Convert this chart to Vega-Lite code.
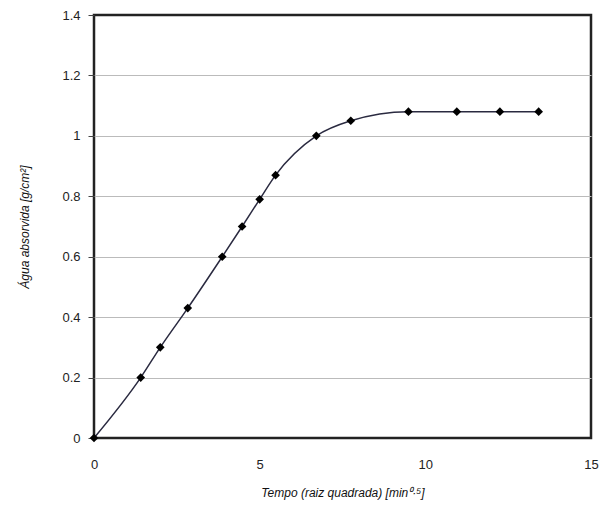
{
  "$schema": "https://vega.github.io/schema/vega-lite/v6.json",
  "width": 497,
  "height": 423,
  "autosize": {"type": "none"},
  "padding": {"left": 94, "top": 15, "right": 11, "bottom": 72},
  "background": "white",
  "config": {
    "font": "Liberation Sans",
    "view": {"stroke": "#222222", "strokeWidth": 2.5},
    "axis": {
      "labelFont": "Liberation Sans",
      "titleFont": "Liberation Sans",
      "labelFontSize": 13,
      "labelColor": "#222222",
      "titleFontSize": 12,
      "titleFontStyle": "italic",
      "titleFontWeight": "normal",
      "titleColor": "#111111",
      "domain": false,
      "gridWidth": 1
    }
  },
  "data": {
    "values": [
      {"t": 0, "a": 0},
      {"t": 1.41, "a": 0.2},
      {"t": 2.0, "a": 0.3},
      {"t": 2.83, "a": 0.43},
      {"t": 3.87, "a": 0.6},
      {"t": 4.47, "a": 0.7},
      {"t": 5.0, "a": 0.79},
      {"t": 5.48, "a": 0.87},
      {"t": 6.71, "a": 1.0},
      {"t": 7.75, "a": 1.05},
      {"t": 9.49, "a": 1.08},
      {"t": 10.95, "a": 1.08},
      {"t": 12.25, "a": 1.08},
      {"t": 13.42, "a": 1.08}
    ]
  },
  "encoding": {
    "x": {
      "field": "t",
      "type": "quantitative",
      "scale": {"domain": [0, 15], "nice": false},
      "axis": {
        "values": [0, 5, 10, 15],
        "grid": false,
        "ticks": false,
        "labelFlush": false,
        "labelPadding": 20,
        "title": "Tempo (raiz quadrada)  [min⁰·⁵]",
        "titlePadding": 16
      }
    },
    "y": {
      "field": "a",
      "type": "quantitative",
      "scale": {"domain": [0, 1.4], "nice": false},
      "axis": {
        "values": [0, 0.2, 0.4, 0.6, 0.8, 1, 1.2, 1.4],
        "format": "~g",
        "grid": true,
        "gridColor": {"condition": {"test": "datum.value == 0 || datum.value == 1.4", "value": "transparent"}, "value": "#bbbbbb"},
        "labelFlush": false,
        "ticks": true,
        "tickSize": 6,
        "tickColor": "#444444",
        "labelPadding": 8,
        "title": "Água absorvida [g/cm²]",
        "titlePadding": 30
      }
    }
  },
  "layer": [
    {
      "mark": {"type": "line", "interpolate": "monotone", "color": "#2a2a40", "strokeWidth": 1.5}
    },
    {
      "mark": {"type": "point", "shape": "diamond", "filled": true, "color": "#000000", "size": 75, "opacity": 1}
    }
  ]
}
